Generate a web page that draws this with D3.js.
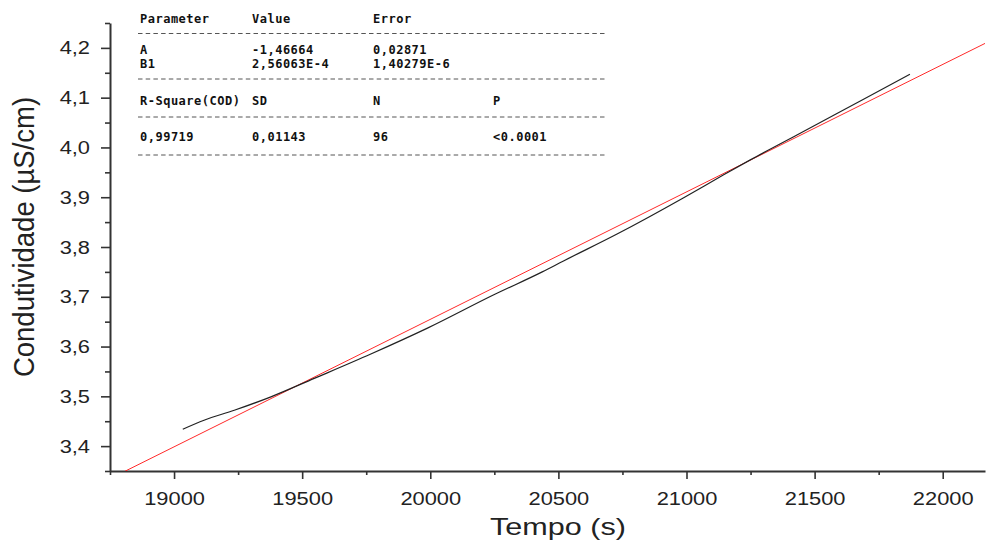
<!DOCTYPE html>
<html lang="pt">
<head>
<meta charset="utf-8">
<title>Condutividade x Tempo</title>
<script src="https://d3js.org/d3.v7.min.js"></script>
<style>
    body { margin: 0; background: white; }
    .axis path, .axis line { stroke: #333; }
    .axis path { stroke-width: 2; }
    .axis line { stroke-width: 1.6; }
    .axis text { font-family: "Liberation Sans", Arial, sans-serif; fill: #222; }
    .fit-table text {
        font-family: "DejaVu Sans Mono", monospace;
        font-weight: bold;
        font-size: 12px;
        letter-spacing: 0.5px;
        fill: #111;
    }
    .fit-table line { stroke: #555; stroke-width: 1; stroke-dasharray: 4.5,3.2; }
    .data-line { fill: none; stroke: #222; stroke-width: 1.2; }
    .fit-line { fill: none; stroke: #ff2a2a; stroke-width: 1; }
</style>
</head>
<body>
<script>
// dados
var tempo = [19034, 19117, 19235, 19378, 19547, 19768, 19989, 20248, 20437, 20520,
             20729, 20989, 21145, 21249, 21431, 21691, 21872];
var condutividade = [3.434, 3.452, 3.472, 3.499, 3.536, 3.585, 3.637, 3.704, 3.750, 3.772,
                     3.826, 3.899, 3.945, 3.975, 4.025, 4.097, 4.147];

// ajuste linear (Origin)
var fitA = -1.46664;
var fitB = 2.56063e-4;

var xTicks = [19000, 19500, 20000, 20500, 21000, 21500, 22000];
var xMinor = [18750, 19250, 19750, 20250, 20750, 21250, 21750];
var yTicks = [3.4, 3.5, 3.6, 3.7, 3.8, 3.9, 4.0, 4.1, 4.2];
var yMinor = [3.35, 3.45, 3.55, 3.65, 3.75, 3.85, 3.95, 4.05, 4.15, 4.25];

var paramHeader = ["Parameter", "Value", "Error"];
var paramRows = [["A", "-1,46664", "0,02871"], ["B1", "2,56063E-4", "1,40279E-6"]];
var statHeader = ["R-Square(COD)", "SD", "N", "P"];
var statRow = ["0,99719", "0,01143", "96", "<0.0001"];

var W = 995, H = 543;
var svg = d3.select("body").append("svg")
    .attr("width", W)
    .attr("height", H);

var x = d3.scaleLinear().domain([18750, 22165]).range([110, 985]);
var y = d3.scaleLinear().domain([3.35, 4.25]).range([471, 23]);

svg.append("clipPath").attr("id", "plot-clip")
    .append("rect")
    .attr("x", x.range()[0]).attr("y", y.range()[1])
    .attr("width", x.range()[1] - x.range()[0])
    .attr("height", y.range()[0] - y.range()[1]);

// minor ticks
svg.append("g").attr("class", "axis")
    .attr("transform", `translate(0, ${y.range()[0]})`)
    .call(d3.axisBottom(x).tickValues(xMinor).tickSize(4).tickFormat(""))
    .select(".domain").remove();
svg.append("g").attr("class", "axis")
    .attr("transform", `translate(${x.range()[0]}, 0)`)
    .call(d3.axisLeft(y).tickValues(yMinor).tickSize(5).tickFormat(""))
    .select(".domain").remove();

// major axes
var xAxis = svg.append("g").attr("class", "axis")
    .attr("transform", `translate(0, ${y.range()[0]})`)
    .call(d3.axisBottom(x).tickValues(xTicks).tickSize(8).tickSizeOuter(0).tickPadding(13).tickFormat(d3.format("d")));
xAxis.selectAll("text")
    .attr("font-size", 19)
    .attr("transform", "scale(1.15,1)");

var yAxis = svg.append("g").attr("class", "axis")
    .attr("transform", `translate(${x.range()[0]}, 0)`)
    .call(d3.axisLeft(y).tickValues(yTicks).tickSize(9).tickSizeOuter(0).tickPadding(0)
        .tickFormat(d => d3.format(".1f")(d).replace(".", ",")));
yAxis.selectAll("text")
    .attr("font-size", 19)
    .attr("x", -20 / 1.15)
    .attr("transform", "scale(1.15,1)");

// axis titles
svg.append("text")
    .attr("transform", "translate(558, 535) scale(1.33,1)")
    .attr("text-anchor", "middle")
    .attr("font-family", "Liberation Sans, Arial, sans-serif")
    .attr("font-size", 23)
    .attr("fill", "#222")
    .text("Tempo (s)");

svg.append("text")
    .attr("transform", "translate(34, 237) scale(1.05,1) rotate(-90)")
    .attr("text-anchor", "middle")
    .attr("font-family", "Liberation Sans, Arial, sans-serif")
    .attr("font-size", 27.5)
    .attr("fill", "#222")
    .text("Condutividade (\u00b5S/cm)");

// lines
var plot = svg.append("g").attr("clip-path", "url(#plot-clip)");

var xd = x.domain();
plot.append("line")
    .attr("class", "fit-line")
    .attr("x1", x(xd[0])).attr("y1", y(fitA + fitB * xd[0]))
    .attr("x2", x(xd[1])).attr("y2", y(fitA + fitB * xd[1]));

var line = d3.line()
    .x((d, i) => x(tempo[i]))
    .y(d => y(d))
    .curve(d3.curveMonotoneX);
plot.append("path")
    .attr("class", "data-line")
    .attr("d", line(condutividade));

// fit table
var table = svg.append("g").attr("class", "fit-table");
var cols = [140, 252, 373, 493];
var lineX = [138, 605];

function textRow(vals, yy) {
    vals.forEach(function (v, i) {
        table.append("text").attr("x", cols[i]).attr("y", yy).text(v);
    });
}
function dashRow(yy) {
    table.append("line")
        .attr("x1", lineX[0]).attr("x2", lineX[1])
        .attr("y1", yy).attr("y2", yy);
}

textRow(paramHeader, 23);
dashRow(33.5);
textRow(paramRows[0], 53.5);
textRow(paramRows[1], 67.5);
dashRow(79);
textRow(statHeader, 105);
dashRow(117);
textRow(statRow, 141);
dashRow(155);
</script>
</body>
</html>
